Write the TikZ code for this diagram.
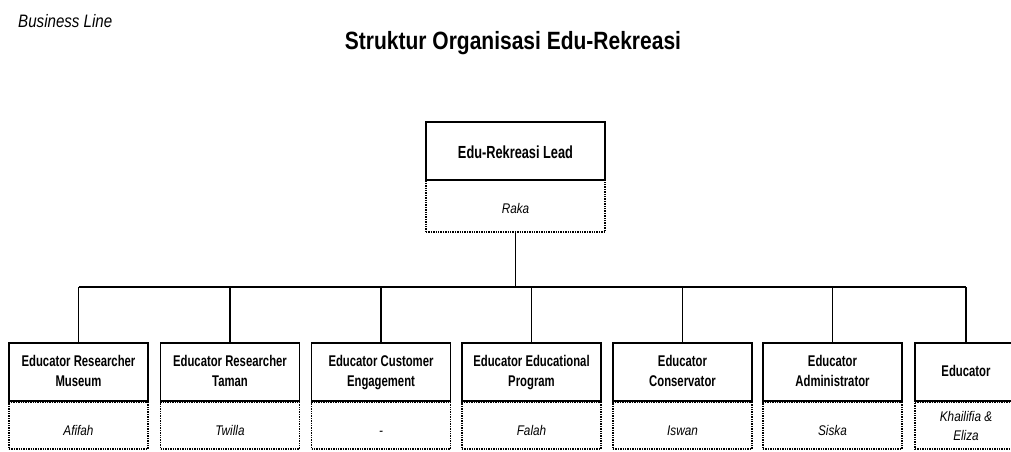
\documentclass[tikz,border=0pt]{standalone}
\usepackage{fontspec}
\setmainfont[FakeStretch=0.84]{Liberation Sans}
\newfontfamily\boxfnt[FakeStretch=0.73]{Liberation Sans}
\begin{document}
\begin{tikzpicture}[x=1pt,y=-1pt,
  rolebox/.style={draw=black, line width=1.6pt, fill=white, minimum height=58pt, align=center, inner sep=0pt, font=\boxfnt\fontsize{15.5}{20}\selectfont\bfseries},
  namebox/.style={draw=black, densely dotted, line width=1.4pt, minimum height=47pt, align=center, inner sep=0pt, font=\fontsize{14}{19}\selectfont\itshape},
  onename/.style={text height=20pt, text depth=0pt},
  conn/.style={draw=black, line width=1.1pt}]
\useasboundingbox (0,0) rectangle (1011,452);
\clip (0,0) rectangle (1011,452);
\node[font=\fontsize{18}{20}\selectfont\itshape, anchor=base west, inner sep=0pt] (bl) at (18,28) {Business Line};
\node[font=\fontsize{25}{28}\selectfont\bfseries, anchor=base, inner sep=0pt] (title) at (513,49) {Struktur Organisasi Edu-Rekreasi};
% top
\node[namebox, minimum width=179pt, minimum height=52pt, text height=14pt, text depth=0pt] (raka) at (515.5,206) {Raka};
\node[rolebox, minimum width=179pt, font=\boxfnt\fontsize{17.5}{20}\selectfont\bfseries, text height=14pt, text depth=0pt] (lead) at (515.5,151) {Edu-Rekreasi Lead};
\coordinate (bus) at (515.5,287);
% bottom boxes
\foreach \n/\x/\w/\role/\who/\opt in {
  b1/78.5/139/{\strut Educator Researcher\\\strut Museum}/{Afifah}/onename,
  b2/230/139/{\strut Educator Researcher\\\strut Taman}/{Twilla}/onename,
  b3/381/139/{\strut Educator Customer\\\strut Engagement}/{-}/onename,
  b4/531.5/139/{\strut Educator Educational\\\strut Program}/{Falah}/onename,
  b5/682.5/139/{\strut Educator\\\strut Conservator}/{Iswan}/onename,
  b6/832.5/139/{\strut Educator\\\strut Administrator}/{Siska}/onename,
  b7/966/102/{\strut Educator}/{Khailifia \&\\Eliza}/{}} {
  \node[namebox, minimum width=\w pt, \opt] (\n n) at (\x,425.5) {\who};
  \node[rolebox, minimum width=\w pt] (\n) at (\x,372) {\role};
}
% connectors
\draw[conn] (raka.south) -- (raka.south |- bus);
\draw[conn] (b1.north |- bus) -- (b7.north |- bus);
\foreach \n in {b1,b2,b3,b4,b5,b6,b7} {
  \draw[conn] (\n.north) -- (\n.north |- bus);
}
\end{tikzpicture}
\end{document}
